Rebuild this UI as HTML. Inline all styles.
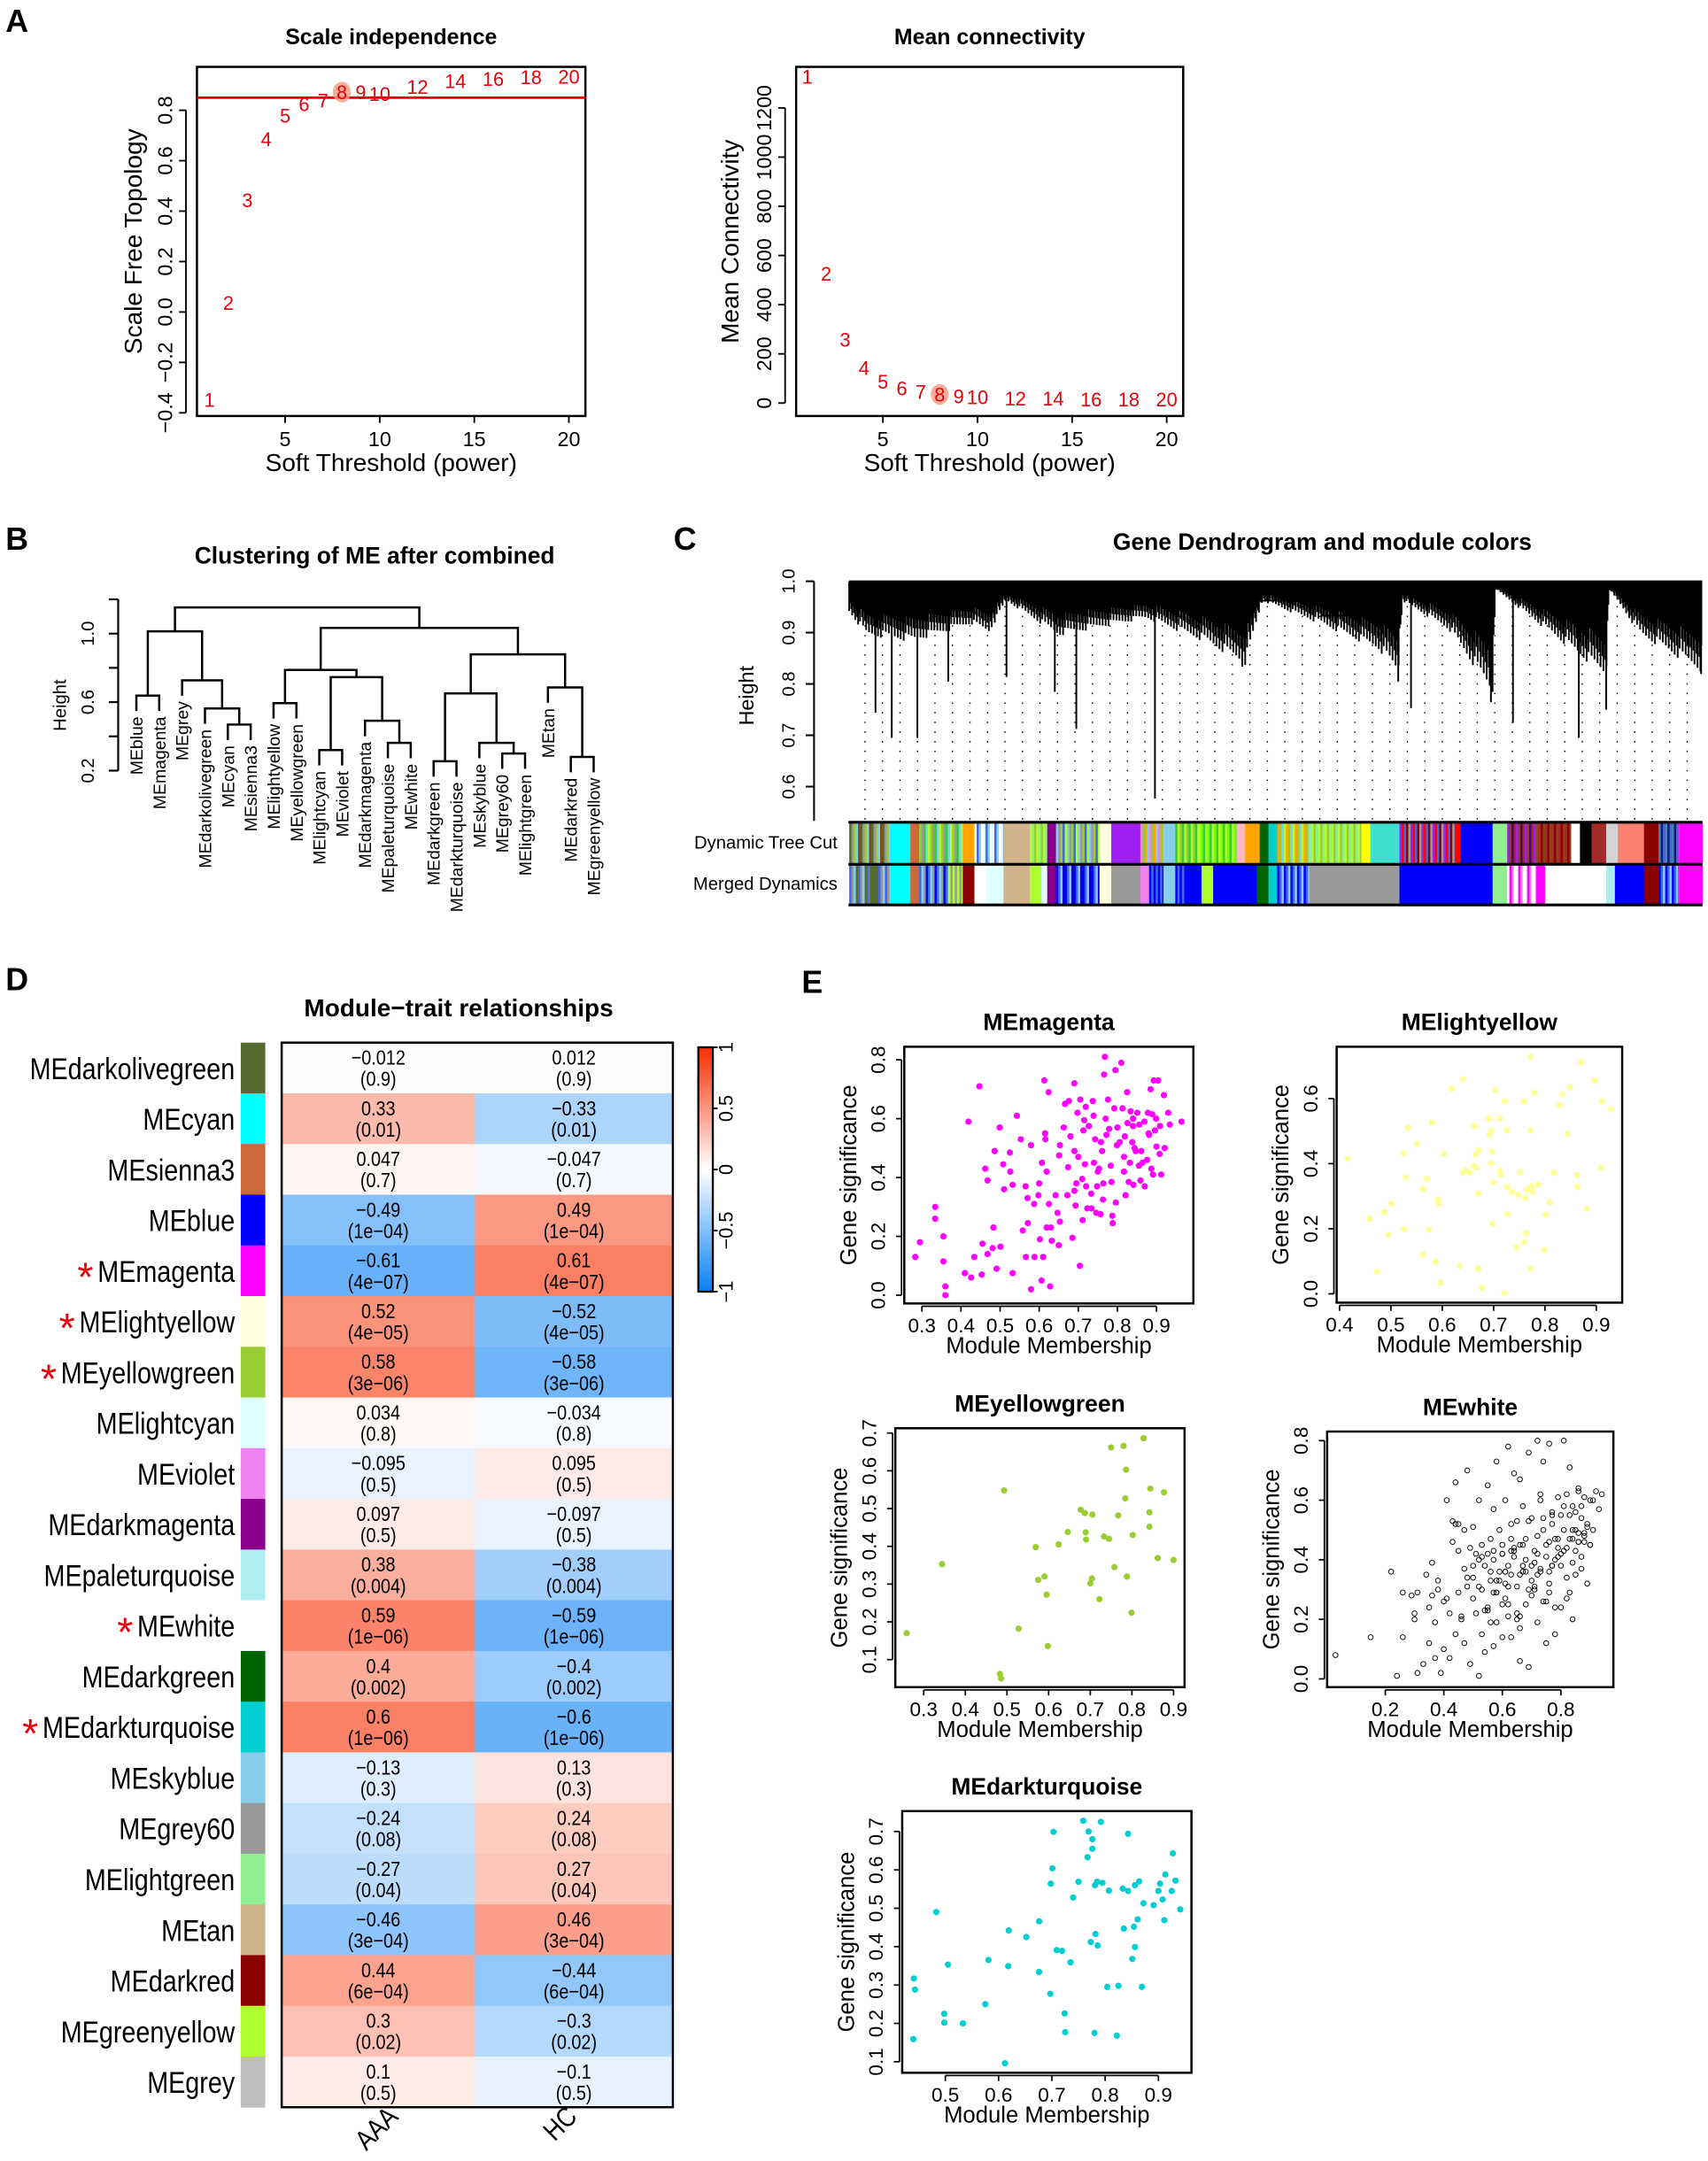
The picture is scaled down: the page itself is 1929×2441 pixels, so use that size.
<!DOCTYPE html>
<html><head><meta charset="utf-8">
<style>
html,body{margin:0;padding:0;background:#fff;}
svg{display:block;font-family:"Liberation Sans",Arial,sans-serif;}
</style></head>
<body>
<svg id="chart" xmlns="http://www.w3.org/2000/svg" width="1929" height="2441" viewBox="0 0 1240 1569">
<rect x="0" y="0" width="1240" height="1569" fill="#fff"/>
<g font-weight="bold" font-size="23">
<text x="4" y="23">A</text>
<text x="4" y="399">B</text>
<text x="489" y="399">C</text>
<text x="4" y="719">D</text>
<text x="582" y="721">E</text>
</g>
</svg>
<script>
const NS='http://www.w3.org/2000/svg';
const svg=document.getElementById('chart');
function mk(tag,attrs,parent){const e=document.createElementNS(NS,tag);for(const k in attrs)e.setAttribute(k,attrs[k]);(parent||svg).appendChild(e);return e;}
function txt(s,x,y,attrs,parent){const t=mk('text',Object.assign({x:x,y:y},attrs||{}),parent);t.textContent=s;return t;}
function lin(v1,p1,v2,p2){return v=>p1+(v-v1)*(p2-p1)/(v2-v1);}
function squeeze(t,f){const w=t.getComputedTextLength();t.setAttribute('textLength',(w*f).toFixed(2));t.setAttribute('lengthAdjust','spacingAndGlyphs');return w*f;}

// ===== Panel A data =====
const powers=[1,2,3,4,5,6,7,8,9,10,12,14,16,18,20];
const sftR2=[-0.348,0.036,0.443,0.685,0.779,0.824,0.838,0.872,0.872,0.864,0.893,0.915,0.924,0.931,0.933];
const meanK=[1327,526,258,143,87,59,46,35,28,23,19,19,15,15,15];
const sftYTicks=[-0.4,-0.2,0,0.2,0.4,0.6,0.8];
const mkYTicks=[0,200,400,600,800,1000,1200];
const powerTicks=[5,10,15,20];
const cutLine=0.85;
const chosenPower=8;

function panelA(cfg){
  const g=mk('g',{});
  
  
  const [x0,y0,x1,y1]=cfg.box;
  const t=txt(cfg.title,(x0+x1)/2,32,{'font-weight':'bold','font-size':16,'text-anchor':'middle'},g);
  
  
  const r=mk('rect',{x:x0,y:y0,width:x1-x0,height:y1-y0,fill:'none',stroke:'#000','stroke-width':1.6},g);
  
  
  const xs=cfg.xs, ys=cfg.ys;
  cfg.xt.forEach(v=>{mk('line',{x1:xs(v),x2:xs(v),y1:y1,y2:y1+5,stroke:'#000','stroke-width':1.2},g);
    const l=txt(String(v),xs(v),y1+22,{'font-size':15,'text-anchor':'middle'},g);
    
    });
  const ymin=ys(cfg.yt[0]), ymax=ys(cfg.yt[cfg.yt.length-1]);
  mk('line',{x1:x0-8,x2:x0-8,y1:ymin,y2:ymax,stroke:'#000','stroke-width':1.2},g);
  cfg.yt.forEach(v=>{mk('line',{x1:x0-8,x2:x0-13,y1:ys(v),y2:ys(v),stroke:'#000','stroke-width':1.2},g);
    const s=(v<0?'\u2212'+Math.abs(v):String(v)).replace(/^0$/,cfg.zeroLabel||'0');
    const l=txt(s,x0-18,ys(v),{'font-size':15,'text-anchor':'middle',transform:`rotate(-90 ${x0-18} ${ys(v)})`},g);
    
    });
  const xl=txt('Soft Threshold (power)',(x0+x1)/2,y1+40,{'font-size':18,'text-anchor':'middle'},g);
  
  
  const yx=cfg.ylabX, yc=(y0+y1)/2;
  const yl=txt(cfg.ylab,yx,yc,{'font-size':18,'text-anchor':'middle',transform:`rotate(-90 ${yx} ${yc})`},g);
  
  
  if(cfg.hline!==undefined){
    const h=mk('line',{x1:x0,x2:x1,y1:ys(cfg.hline),y2:ys(cfg.hline),stroke:'#e8000b','stroke-width':1.8},g);
    
    
  }
  cfg.vals.forEach((v,i)=>{
    const p=powers[i];
    if(p===chosenPower){const c=mk('ellipse',{cx:xs(p),cy:ys(v),rx:6.5,ry:7.5,fill:'#f4a08a',opacity:0.85},g);
      
      }
    const l=txt(String(p),xs(p),ys(v)+5,{'font-size':14,'text-anchor':'middle',fill:'#e8000b'},g);
    
    
  });
}
panelA({name:'scale-independence-plot',title:'Scale independence',box:[143,48.5,425,302],
  xs:lin(5,207,20,413),ys:lin(0.8,80,-0.4,299.7),xt:powerTicks,yt:sftYTicks,vals:sftR2,hline:cutLine,
  ylab:'Scale Free Topology',ylabX:103,zeroLabel:'0.0'});
panelA({name:'mean-connectivity-plot',title:'Mean connectivity',box:[578,48.5,859,302],
  xs:lin(5,641,20,847),ys:lin(0,292.6,1200,78.3),xt:powerTicks,yt:mkYTicks,vals:meanK,
  ylab:'Mean Connectivity',ylabX:536});

// ===== Panel B: ME dendrogram =====
const meLeaves=['MEblue','MEmagenta','MEgrey','MEdarkolivegreen','MEcyan','MEsienna3','MElightyellow','MEyellowgreen','MElightcyan','MEviolet','MEdarkmagenta','MEpaleturquoise','MEwhite','MEdarkgreen','MEdarkturquoise','MEskyblue','MEgrey60','MElightgreen','MEtan','MEdarkred','MEgreenyellow'];
const meMerges=[[-1,-2,0.638],[-5,-6,0.469],[-4,2,0.563],[-3,3,0.727],[1,4,1.013],
 [-7,-8,0.594],[-9,-10,0.32],[-12,-13,0.362],[-11,8,0.491],[7,9,0.746],[6,10,0.788],
 [-14,-15,0.255],[-17,-18,0.30],[-16,13,0.362],[12,14,0.651],[-20,-21,0.28],[-19,16,0.686],[15,17,0.879],
 [11,18,1.033],[5,19,1.153]];
const meYTicks=[0.2,0.4,0.6,0.8,1.0,1.2];
const meYLabels=[0.2,0.6,1.0];
(function(){
  const g=mk('g',{});
  
  
  const t=txt('Clustering of ME after combined',272,409,{'font-weight':'bold','font-size':17,'text-anchor':'middle'},g);
  
  
  const ys=lin(0.2,559.5,1.0,460);
  const xs=i=>99+i*16.6;
  mk('line',{x1:85.8,x2:85.8,y1:ys(1.2),y2:ys(0.2),stroke:'#000','stroke-width':1.4},g);
  meYTicks.forEach(v=>mk('line',{x1:85.8,x2:79,y1:ys(v),y2:ys(v),stroke:'#000','stroke-width':1.4},g));
  meYLabels.forEach(v=>{const l=txt(v.toFixed(1),68,ys(v),{'font-size':13,'text-anchor':'middle',transform:`rotate(-90 68 ${ys(v)})`},g);
    
    });
  const hl=txt('Height',48,512,{'font-size':13,'text-anchor':'middle',transform:'rotate(-90 48 512)'},g);
  
  
  const hang=0.09;
  const nodes=[];
  function info(id){ if(id<0){return {x:xs(-id-1),leaf:-id-1};} return nodes[id-1]; }
  let d='';
  meMerges.forEach(m=>{
    const a=info(m[0]),b=info(m[1]);const y=ys(m[2]);
    const ya=a.leaf!==undefined?ys(m[2]-hang):a.y;
    const yb=b.leaf!==undefined?ys(m[2]-hang):b.y;
    if(a.leaf!==undefined)a.ly=ya; if(b.leaf!==undefined)b.ly=yb;
    d+=`M${a.x},${ya}V${y}H${b.x}V${yb}`;
    [a,b].forEach(n=>{if(n.leaf!==undefined){const lab=txt(meLeaves[n.leaf],n.x+4.5,n.ly+4,{'font-size':12.5,'text-anchor':'end',transform:`rotate(-90 ${n.x+4.5} ${n.ly+4})`},g);
      
      }});
    nodes.push({x:(a.x+b.x)/2,y:y});
  });
  const p=mk('path',{d:d,fill:'none',stroke:'#000','stroke-width':1.6},g);
  
  
})();

// ===== Panel C: gene dendrogram + module colors =====
const envelope=[[90,340],[120,420],[200,440],[300,380],[330,410],[360,300],[450,420],[600,360],[700,440],[770,520],[800,300],[900,380],[1000,470],[1033,550],[1040,300],[1120,400],[1195,620],[1200,260],[1300,420],[1390,560],[1395,260],[1450,420],[1555,545]];
const drops=[[135,675],[163,760],[207,760],[260,570],[360,555],[443,605],[480,730],[615,965],[765,520],[1033,570],[1055,660],[1192,640],[1230,710],[1343,760],[1390,665],[1553,545]];
const dynSegs=[[90,160,['#556B2F','#999','#9ACD32','#87CEEB','#8B4513']],[160,195,['#00FFFF']],[195,210,['#CD6839']],[210,285,['#9ACD32','#999','#32CD32','#87CEEB','#ADFF2F']],[285,305,['#FFA500']],[305,355,['#E0FFFF','#4169E1','#87CEEB','#fff']],[355,400,['#D2B48C']],[400,430,['#ADFF2F','#90EE90','#9ACD32']],[430,445,['#8B008B']],[445,520,['#87CEEB','#999','#9ACD32','#4169E1','#ADFF2F']],[520,540,['#FFFFE0']],[540,590,['#A020F0']],[590,630,['#EE82EE','#9ACD32','#FFA500','#87CEEB']],[630,650,['#87CEEB']],[650,690,['#32CD32','#ADFF2F','#9ACD32']],[690,755,['#ADFF2F','#7CFC00','#32CD32']],[755,770,['#FFB6C1']],[770,795,['#FFA500']],[795,810,['#006400']],[810,825,['#00CED1']],[825,880,['#FFA500','#9ACD32','#87CEEB','#ADFF2F']],[880,970,['#90EE90','#ADFF2F','#9ACD32']],[970,985,['#FFFF00']],[985,1035,['#40E0D0']],[1035,1130,['#A020F0','#FF0000','#4169E1','#8B0000','#999']],[1130,1140,['#FF0000']],[1140,1195,['#0000FF']],[1195,1220,['#90EE90']],[1220,1270,['#A020F0','#8B4513','#4B0082','#A52A2A']],[1270,1330,['#8B4513','#A52A2A','#8B0000']],[1330,1345,['#FFFFFF']],[1345,1365,['#000000']],[1365,1390,['#A52A2A']],[1390,1410,['#D3D3D3']],[1410,1455,['#FA8072']],[1455,1480,['#8B0000']],[1480,1515,['#4682B4','#191970','#4169E1']],[1515,1555,['#FF00FF']]];
const mrgSegs=[[90,125,['#4169E1','#999','#87CEEB','#556B2F']],[125,140,['#556B2F']],[140,160,['#4169E1','#999','#87CEEB']],[160,195,['#00FFFF']],[195,210,['#CD6839']],[210,260,['#4169E1','#87CEEB','#999','#0000FF']],[260,285,['#ADFF2F','#999']],[285,305,['#8B0000']],[305,325,['#FFFFFF']],[325,355,['#E0FFFF']],[355,400,['#D2B48C']],[400,420,['#ADFF2F']],[420,430,['#E0FFFF']],[430,445,['#8B008B']],[445,520,['#0000FF','#4169E1','#87CEEB','#0000CD']],[520,540,['#FFFFE0']],[540,590,['#999999']],[590,605,['#EE82EE']],[605,630,['#0000FF','#4169E1']],[630,650,['#87CEEB']],[650,665,['#0000FF','#4169E1']],[665,695,['#0000FF']],[695,715,['#ADFF2F']],[715,790,['#0000FF']],[790,810,['#006400']],[810,825,['#00CED1']],[825,880,['#0000FF','#4169E1','#87CEEB']],[880,1035,['#999999']],[1035,1195,['#0000FF']],[1195,1220,['#90EE90']],[1220,1270,['#FFFFFF','#FF00FF','#EE82EE','#FFFFFF']],[1270,1285,['#FF00FF']],[1285,1390,['#FFFFFF']],[1390,1405,['#AFEEEE']],[1405,1455,['#0000FF']],[1455,1480,['#8B0000']],[1480,1515,['#0000FF','#4169E1','#87CEEB']],[1515,1555,['#FF00FF']]];
const geneYTicks=[1.0,0.9,0.8,0.7,0.6];
(function(){
  const zx=v=>578.5+v*0.4227, zy=v=>422+(v-232)*0.2153;
  const g=mk('g',{});
  
  
  const t=txt('Gene Dendrogram and module colors',960,399,{'font-weight':'bold','font-size':17,'text-anchor':'middle'},g);
  
  
  const ys=lin(1.0,422,0.6,571.1);
  mk('line',{x1:591,x2:591,y1:422,y2:596,stroke:'#000','stroke-width':1.3},g);
  geneYTicks.forEach(v=>{mk('line',{x1:591,x2:585,y1:ys(v),y2:ys(v),stroke:'#000','stroke-width':1.3},g);
    const l=txt(v.toFixed(1),577,ys(v),{'font-size':13,'text-anchor':'middle',transform:`rotate(-90 577 ${ys(v)})`},g);
    
    });
  const hl=txt('Height',547,505,{'font-size':15,'text-anchor':'middle',transform:'rotate(-90 547 505)'},g);
  
  
  let dd='';
  for(let x=628;x<1236;x+=12.7){dd+=`M${x.toFixed(1)},440V596`;}
  mk('path',{d:dd,stroke:'#000','stroke-width':0.9,'stroke-dasharray':'1,6',fill:'none'},g);
  function env(x){for(let i=0;i<envelope.length-1;i++){const a=envelope[i],b=envelope[i+1];if(x>=a[0]&&x<=b[0]){return a[1]+(b[1]-a[1])*(x-a[0])/(b[0]-a[0]);}}return 340;}
  let d='';
  for(let z=90;z<=1555;z+=1.7){
    const e=zy(env(z));const f=((Math.round(z*10)*37)%23)/23;
    const yb=424+(e-424)*(0.55+0.45*f);
    d+=`M${zx(z).toFixed(1)},422V${yb.toFixed(1)}`;
  }
  drops.forEach(p=>{d+=`M${zx(p[0]).toFixed(1)},430V${zy(p[1]).toFixed(1)}`;});
  d+=`M${zx(90)},422H${zx(1555)}M${zx(310)},427H${zx(1195)}M${zx(800)},429H${zx(1040)}M${zx(700)},436H${zx(1040)}M${zx(900)},447H${zx(1033)}M${zx(1200)},427H${zx(1395)}M${zx(1395)},428H${zx(1500)}`;
  const p=mk('path',{d:d,stroke:'#000','stroke-width':1.25,fill:'none'},g);
  
  
  function bar(segs,y0,h,name){
    const bg=mk('g',{},g);
    
    
    segs.forEach(s=>{
      const a=zx(s[0]),b=zx(s[1]);
      if(s[2].length===1){mk('rect',{x:a,y:y0,width:b-a+0.3,height:h,fill:s[2][0]},bg);}
      else{let k=0;for(let x=a;x<b;x+=1.6){mk('rect',{x:x,y:y0,width:Math.min(1.9,b-x),height:h,fill:s[2][k%s[2].length]},bg);k++;}}
    });
  }
  bar(dynSegs,597,30,'dynamic-tree-cut-colors');
  bar(mrgSegs,628,29,'merged-dynamics-colors');
  [597,627.5,657].forEach(y=>mk('line',{x1:616,x2:1236,y1:y,y2:y,stroke:'#000','stroke-width':2},g));
  const l1=txt('Dynamic Tree Cut',608,616,{'font-size':13,'text-anchor':'end'},g);
  
  
  const l2=txt('Merged Dynamics',608,646,{'font-size':13,'text-anchor':'end'},g);
  
  
})();

// ===== Panel D: heatmap =====
const modNames=['MEdarkolivegreen','MEcyan','MEsienna3','MEblue','MEmagenta','MElightyellow','MEyellowgreen','MElightcyan','MEviolet','MEdarkmagenta','MEpaleturquoise','MEwhite','MEdarkgreen','MEdarkturquoise','MEskyblue','MEgrey60','MElightgreen','MEtan','MEdarkred','MEgreenyellow','MEgrey'];
const modColors=['#556B2F','#00FFFF','#CD6839','#0000FF','#FF00FF','#FFFFE0','#9ACD32','#E0FFFF','#EE82EE','#8B008B','#AFEEEE','#FFFFFF','#006400','#00CED1','#87CEEB','#999999','#90EE90','#D2B48C','#8B0000','#ADFF2F','#BEBEBE'];
const corAAA=[-0.012,0.33,0.047,-0.49,-0.61,0.52,0.58,0.034,-0.095,0.097,0.38,0.59,0.4,0.6,-0.13,-0.24,-0.27,-0.46,0.44,0.3,0.1];
const corHC=[0.012,-0.33,-0.047,0.49,0.61,-0.52,-0.58,-0.034,0.095,-0.097,-0.38,-0.59,-0.4,-0.6,0.13,0.24,0.27,0.46,-0.44,-0.3,-0.1];
const pvals=['0.9','0.01','0.7','1e-04','4e-07','4e-05','3e-06','0.8','0.5','0.5','0.004','1e-06','0.002','1e-06','0.3','0.08','0.04','3e-04','6e-04','0.02','0.5'];
const starred=['MEmagenta','MElightyellow','MEyellowgreen','MEwhite','MEdarkturquoise'];
const traits=['AAA','HC'];
const cbTicks=[1,0.5,0,-0.5,-1];
function heatColor(v){
  const e=v<0?[7,127,244]:[247,45,0];const a=Math.min(1,Math.abs(v));
  return `rgb(${Math.round(255+(e[0]-255)*a)},${Math.round(255+(e[1]-255)*a)},${Math.round(255+(e[2]-255)*a)})`;
}
function fmt(v){return v<0?'\u2212'+String(Math.abs(v)):String(v);}
(function(){
  const g=mk('g',{});
  
  
  const t=txt('Module\u2212trait relationships',333,738,{'font-weight':'bold','font-size':18,'text-anchor':'middle'},g);
  
  
  const x0=204.5,x1=488.5,y0=757,y1=1530,cm=344.8;
  const rh=(y1-y0)/modNames.length;
  const cols=[[x0,cm],[cm,x1]];
  modNames.forEach((n,i)=>{
    const y=y0+i*rh;
    const sw=mk('rect',{x:174.8,y:y,width:17.8,height:rh+0.3,fill:modColors[i]},g);
    
    
    const lab=txt(n,170.5,y+rh/2+8,{'font-size':22,'text-anchor':'end'},g);
    
    
    const w=squeeze(lab,0.84);
    if(starred.indexOf(n)>=0){
      const st=txt('*',170.5-w-3,y+rh/2+15,{'font-size':30,'text-anchor':'end',fill:'#e8000b'},g);
      
      
    }
    [corAAA[i],corHC[i]].forEach((v,j)=>{
      const c=mk('rect',{x:cols[j][0],y:y,width:cols[j][1]-cols[j][0]+0.3,height:rh+0.3,fill:heatColor(v)},g);
      
      
      const cx=(cols[j][0]+cols[j][1])/2;
      const a=txt(fmt(v),cx,y+16,{'font-size':15,'text-anchor':'middle'},g);
      
      
      squeeze(a,0.85);
      const b=txt('('+pvals[i].replace('-','\u2212')+')',cx,y+31.5,{'font-size':15,'text-anchor':'middle'},g);
      
      
      squeeze(b,0.85);
    });
  });
  const fr=mk('rect',{x:x0,y:y0,width:x1-x0,height:y1-y0,fill:'none',stroke:'#000','stroke-width':1.6},g);
  
  
  traits.forEach((tr,j)=>{
    const ex=j===0?290:420, ey=1538;
    const l=txt(tr,ex,ey,{'font-size':20,'text-anchor':'end',transform:`rotate(-45 ${ex} ${ey})`},g);
    
    
    squeeze(l,0.85);
  });
  const defs=mk('defs',{},g);
  const lg=mk('linearGradient',{id:'cbg',x1:0,y1:0,x2:0,y2:1},defs);
  [1,0.5,0,-0.5,-1].forEach((v,k)=>mk('stop',{offset:(k/4),'stop-color':heatColor(v)},lg));
  const cy=lin(1,760.4,-1,937.8);
  const cb=mk('rect',{x:507,y:760.4,width:10.5,height:177.4,fill:'url(#cbg)',stroke:'#000','stroke-width':1.5},g);
  
  
  cbTicks.forEach(v=>{mk('line',{x1:517.5,x2:521,y1:cy(v),y2:cy(v),stroke:'#000','stroke-width':1.2},g);
    const l=txt(fmt(v),532,cy(v),{'font-size':14,'text-anchor':'middle',transform:`rotate(-90 532 ${cy(v)})`},g);
    
    });
})();

// ===== Panel E: scatter plots =====
const magentaMM=[0.283,0.295,0.334,0.334,0.355,0.355,0.36,0.36,0.41,0.426,0.434,0.453,0.455,0.447,0.419,0.462,0.468,0.468,0.481,0.483,0.486,0.491,0.499,0.501,0.508,0.51,0.525,0.526,0.532,0.532,0.543,0.553,0.558,0.565,0.566,0.57,0.571,0.579,0.579,0.587,0.588,0.598,0.6,0.602,0.606,0.607,0.61,0.613,0.615,0.616,0.619,0.619,0.624,0.625,0.628,0.63,0.632,0.642,0.647,0.65,0.651,0.653,0.653,0.663,0.666,0.672,0.674,0.676,0.68,0.685,0.69,0.69,0.69,0.693,0.695,0.698,0.704,0.705,0.71,0.711,0.713,0.715,0.717,0.719,0.72,0.723,0.727,0.733,0.734,0.737,0.739,0.74,0.743,0.746,0.748,0.753,0.757,0.758,0.761,0.763,0.764,0.766,0.768,0.77,0.772,0.776,0.779,0.783,0.785,0.787,0.788,0.792,0.795,0.796,0.799,0.806,0.81,0.813,0.817,0.817,0.819,0.821,0.825,0.826,0.829,0.832,0.834,0.838,0.84,0.841,0.844,0.847,0.851,0.855,0.856,0.859,0.861,0.864,0.869,0.87,0.876,0.878,0.881,0.885,0.887,0.889,0.891,0.893,0.896,0.899,0.9,0.904,0.908,0.909,0.912,0.919,0.921,0.93,0.934,0.964,0.8,0.84,0.75,0.7,0.88];
const magentaGS=[0.13,0.18,0.30,0.26,0.20,0.115,0.03,0.0,0.075,0.06,0.13,0.07,0.175,0.71,0.59,0.43,0.39,0.14,0.16,0.23,0.49,0.09,0.57,0.165,0.445,0.36,0.485,0.42,0.075,0.375,0.61,0.53,0.22,0.37,0.13,0.33,0.245,0.51,0.02,0.31,0.13,0.34,0.38,0.19,0.05,0.45,0.13,0.73,0.55,0.53,0.42,0.23,0.69,0.31,0.03,0.23,0.185,0.34,0.28,0.17,0.475,0.25,0.51,0.57,0.65,0.34,0.435,0.66,0.54,0.195,0.72,0.49,0.355,0.305,0.38,0.62,0.1,0.665,0.395,0.255,0.56,0.595,0.445,0.64,0.37,0.295,0.575,0.345,0.295,0.66,0.61,0.45,0.53,0.28,0.37,0.43,0.275,0.52,0.49,0.325,0.38,0.75,0.81,0.6,0.545,0.665,0.565,0.44,0.385,0.27,0.245,0.635,0.765,0.315,0.51,0.52,0.79,0.635,0.42,0.47,0.54,0.34,0.69,0.585,0.385,0.45,0.625,0.52,0.575,0.375,0.5,0.49,0.62,0.44,0.58,0.39,0.49,0.45,0.59,0.37,0.46,0.62,0.545,0.7,0.43,0.615,0.41,0.73,0.56,0.6,0.505,0.73,0.48,0.575,0.41,0.68,0.5,0.62,0.58,0.59,0.57,0.60,0.42,0.47,0.55];
const lyMM=[0.416,0.459,0.473,0.487,0.495,0.501,0.525,0.526,0.533,0.529,0.551,0.562,0.563,0.57,0.574,0.58,0.587,0.591,0.593,0.597,0.603,0.618,0.634,0.64,0.641,0.645,0.654,0.661,0.663,0.666,0.666,0.67,0.67,0.671,0.677,0.691,0.692,0.695,0.695,0.697,0.698,0.699,0.703,0.712,0.712,0.714,0.722,0.721,0.726,0.726,0.727,0.736,0.745,0.748,0.752,0.759,0.759,0.762,0.763,0.765,0.772,0.772,0.772,0.774,0.776,0.779,0.787,0.799,0.802,0.809,0.818,0.829,0.834,0.844,0.849,0.863,0.863,0.87,0.881,0.897,0.909,0.911,0.929];
const lyGS=[0.415,0.231,0.068,0.251,0.181,0.277,0.431,0.199,0.51,0.358,0.461,0.121,0.322,0.353,0.197,0.526,0.098,0.289,0.277,0.034,0.43,0.63,0.086,0.66,0.372,0.379,0.372,0.393,0.515,0.388,0.428,0.308,0.077,0.442,0.018,0.538,0.488,0.501,0.401,0.437,0.215,0.343,0.626,0.539,0.378,0.365,0.592,0.002,0.503,0.328,0.245,0.313,0.143,0.304,0.373,0.591,0.159,0.295,0.186,0.32,0.728,0.503,0.077,0.331,0.313,0.617,0.335,0.134,0.243,0.281,0.372,0.58,0.612,0.491,0.635,0.365,0.328,0.712,0.261,0.655,0.388,0.592,0.567];
const ygMM=[0.259,0.344,0.493,0.483,0.486,0.528,0.569,0.575,0.59,0.595,0.598,0.624,0.646,0.677,0.687,0.689,0.69,0.7,0.704,0.705,0.722,0.733,0.745,0.75,0.758,0.767,0.78,0.784,0.786,0.788,0.799,0.802,0.828,0.842,0.842,0.844,0.862,0.877,0.9];
const ygGS=[0.17,0.353,0.548,0.062,0.05,0.182,0.398,0.311,0.32,0.272,0.136,0.405,0.438,0.497,0.488,0.437,0.418,0.302,0.315,0.484,0.26,0.426,0.42,0.662,0.345,0.482,0.666,0.527,0.603,0.32,0.224,0.43,0.686,0.49,0.452,0.553,0.369,0.543,0.364];
const whiteMM=[0.03,0.15,0.22,0.24,0.26,0.26,0.29,0.3,0.3,0.31,0.31,0.33,0.34,0.35,0.35,0.36,0.37,0.37,0.38,0.39,0.4,0.4,0.41,0.42,0.42,0.43,0.44,0.44,0.45,0.45,0.46,0.47,0.47,0.48,0.48,0.49,0.5,0.5,0.5,0.51,0.52,0.52,0.52,0.53,0.53,0.54,0.54,0.55,0.55,0.55,0.56,0.56,0.57,0.57,0.57,0.58,0.58,0.58,0.59,0.59,0.6,0.6,0.6,0.61,0.61,0.62,0.62,0.62,0.63,0.63,0.63,0.64,0.64,0.65,0.65,0.65,0.66,0.66,0.66,0.67,0.67,0.68,0.68,0.69,0.69,0.69,0.7,0.7,0.71,0.71,0.72,0.72,0.72,0.73,0.73,0.74,0.74,0.75,0.75,0.76,0.76,0.76,0.77,0.77,0.78,0.78,0.79,0.79,0.8,0.8,0.81,0.81,0.82,0.82,0.83,0.83,0.84,0.84,0.85,0.85,0.86,0.86,0.87,0.87,0.88,0.88,0.89,0.89,0.9,0.91,0.92,0.93,0.94,0.47,0.52,0.58,0.63,0.68,0.74,0.79,0.84,0.88,0.55,0.61,0.66,0.71,0.77,0.82,0.86,0.45,0.5,0.64,
 0.36,0.38,0.41,0.43,0.46,0.48,0.51,0.53,0.54,0.56,0.57,0.59,0.6,0.61,0.63,0.64,0.66,0.67,0.68,0.7,0.71,0.72,0.73,0.75,0.76,0.77,0.78,0.79,0.8,0.81,0.82,0.83,0.84,0.85,0.86,0.87,0.88,0.89,0.9,0.91,0.56,0.58,0.6,0.62,0.65,0.67,0.7,0.72,0.74,0.76,0.78,0.8,0.83,0.85,0.87,0.49,0.53,0.57,0.61,0.69,0.73,0.77,0.81,0.86,0.9,0.44,0.62,0.66,0.75,0.84];
const whiteGS=[0.08,0.14,0.36,0.01,0.14,0.29,0.28,0.22,0.2,0.29,0.02,0.05,0.35,0.12,0.24,0.39,0.19,0.07,0.3,0.02,0.26,0.1,0.6,0.22,0.07,0.53,0.66,0.15,0.43,0.29,0.21,0.12,0.37,0.7,0.31,0.05,0.27,0.51,0.38,0.22,0.6,0.01,0.31,0.15,0.41,0.38,0.09,0.65,0.24,0.42,0.19,0.33,0.57,0.11,0.43,0.29,0.73,0.19,0.5,0.36,0.25,0.14,0.45,0.6,0.32,0.78,0.38,0.25,0.52,0.14,0.35,0.69,0.43,0.53,0.2,0.31,0.67,0.45,0.06,0.36,0.58,0.25,0.47,0.3,0.76,0.04,0.38,0.54,0.3,0.43,0.8,0.42,0.19,0.62,0.36,0.73,0.5,0.41,0.26,0.79,0.46,0.29,0.56,0.38,0.47,0.15,0.61,0.41,0.24,0.55,0.8,0.43,0.62,0.34,0.47,0.71,0.5,0.39,0.56,0.43,0.64,0.49,0.37,0.54,0.46,0.61,0.32,0.51,0.45,0.6,0.63,0.57,0.62,0.5,0.4,0.33,0.47,0.36,0.54,0.44,0.58,0.49,0.23,0.27,0.21,0.31,0.38,0.27,0.46,0.52,0.34,0.44,0.28,
 0.33,0.27,0.46,0.2,0.34,0.42,0.3,0.23,0.36,0.4,0.33,0.42,0.36,0.43,0.41,0.35,0.45,0.4,0.33,0.39,0.48,0.37,0.45,0.36,0.52,0.4,0.47,0.42,0.5,0.44,0.55,0.47,0.5,0.46,0.58,0.48,0.52,0.45,0.5,0.47,0.29,0.42,0.31,0.22,0.38,0.28,0.35,0.26,0.32,0.24,0.38,0.29,0.35,0.41,0.44,0.45,0.29,0.36,0.53,0.6,0.55,0.58,0.63,0.6,0.52,0.21,0.17,0.12,0.2,0.16];
const dtMM=[0.441,0.443,0.44,0.483,0.498,0.498,0.505,0.533,0.575,0.581,0.612,0.618,0.619,0.652,0.676,0.676,0.697,0.698,0.701,0.703,0.709,0.719,0.724,0.725,0.735,0.74,0.75,0.759,0.767,0.769,0.773,0.776,0.776,0.78,0.782,0.781,0.785,0.786,0.792,0.795,0.804,0.807,0.822,0.825,0.833,0.835,0.843,0.843,0.851,0.854,0.856,0.856,0.861,0.864,0.869,0.872,0.891,0.9,0.903,0.908,0.911,0.913,0.925,0.927,0.932,0.941];
const dtGS=[0.317,0.288,0.159,0.49,0.225,0.202,0.353,0.2,0.25,0.365,0.096,0.349,0.442,0.425,0.466,0.334,0.277,0.564,0.604,0.699,0.391,0.389,0.226,0.177,0.359,0.528,0.569,0.728,0.633,0.7,0.412,0.68,0.655,0.175,0.433,0.56,0.569,0.403,0.725,0.566,0.295,0.546,0.168,0.298,0.551,0.447,0.694,0.545,0.368,0.452,0.56,0.399,0.471,0.57,0.295,0.513,0.508,0.545,0.564,0.523,0.469,0.588,0.545,0.643,0.572,0.497];

function scatter(cfg){
  const g=mk('g',{});
  
  
  const [x0,y0,x1,y1]=cfg.box;
  const t=txt(cfg.title,(x0+x1)/2,y0-12,{'font-weight':'bold','font-size':17,'text-anchor':'middle'},g);
  
  
  const xs=cfg.xs,ys=cfg.ys;
  cfg.mm.forEach((m,i)=>{
    const c=mk('circle',{cx:xs(m),cy:ys(cfg.gs[i]),r:cfg.open?1.8:2.3,fill:cfg.open?'none':cfg.color,stroke:cfg.open?'#000':'none','stroke-width':0.6},g);
    
    
  });
  const r=mk('rect',{x:x0,y:y0,width:x1-x0,height:y1-y0,fill:'none',stroke:'#000','stroke-width':1.6},g);
  
  
  const xt=cfg.xt,yt=cfg.yt;
  mk('line',{x1:xs(xt[0]),x2:xs(xt[xt.length-1]),y1:y1+2,y2:y1+2,stroke:'#000','stroke-width':1.1},g);
  xt.forEach(v=>{mk('line',{x1:xs(v),x2:xs(v),y1:y1+2,y2:y1+6,stroke:'#000','stroke-width':1.1},g);
    const l=txt(v.toFixed(1),xs(v),y1+21,{'font-size':14.5,'text-anchor':'middle'},g);
    
    });
  mk('line',{x1:x0-2,x2:x0-2,y1:ys(yt[0]),y2:ys(yt[yt.length-1]),stroke:'#000','stroke-width':1.1},g);
  yt.forEach(v=>{mk('line',{x1:x0-2,x2:x0-6,y1:ys(v),y2:ys(v),stroke:'#000','stroke-width':1.1},g);
    const lx=x0-14;
    const l=txt(v.toFixed(1),lx,ys(v),{'font-size':14.5,'text-anchor':'middle',transform:`rotate(-90 ${lx} ${ys(v)})`},g);
    
    });
  const xl=txt('Module Membership',(x0+x1)/2,y1+36,{'font-size':16.5,'text-anchor':'middle'},g);
  
  
  const yx=x0-35,yc=(y0+y1)/2;
  const yl=txt('Gene significance',yx,yc,{'font-size':16.5,'text-anchor':'middle',transform:`rotate(-90 ${yx} ${yc})`},g);
  
  
}
scatter({name:'scatter-memagenta',title:'MEmagenta',box:[656.5,760,866.4,946.4],xs:lin(0.3,669.3,0.9,839.6),ys:lin(0,940.4,0.8,769.5),
  xt:[0.3,0.4,0.5,0.6,0.7,0.8,0.9],yt:[0,0.2,0.4,0.6,0.8],mm:magentaMM,gs:magentaGS,color:'#FF00FF'});
scatter({name:'scatter-melightyellow',title:'MElightyellow',box:[970.4,760,1177.7,945.8],xs:lin(0.4,972.5,0.9,1158.9),ys:lin(0,939.4,0.6,797.6),
  xt:[0.4,0.5,0.6,0.7,0.8,0.9],yt:[0,0.2,0.4,0.6],mm:lyMM,gs:lyGS,color:'#FFFF99'});
scatter({name:'scatter-meyellowgreen',title:'MEyellowgreen',box:[650,1037,860,1225],xs:lin(0.3,670.6,0.9,852),ys:lin(0.1,1205,0.7,1040.5),
  xt:[0.3,0.4,0.5,0.6,0.7,0.8,0.9],yt:[0.1,0.2,0.3,0.4,0.5,0.6,0.7],mm:ygMM,gs:ygGS,color:'#9ACD32'});
scatter({name:'scatter-mewhite',title:'MEwhite',box:[963.5,1039.4,1171.3,1225],xs:lin(0.2,1005.7,0.8,1133.2),ys:lin(0,1219,0.8,1046),
  xt:[0.2,0.4,0.6,0.8],yt:[0,0.2,0.4,0.6,0.8],mm:whiteMM,gs:whiteGS,open:true});
scatter({name:'scatter-medarkturquoise',title:'MEdarkturquoise',box:[655,1315,865,1505],xs:lin(0.5,686.3,0.9,841),ys:lin(0.1,1497,0.7,1329.8),
  xt:[0.5,0.6,0.7,0.8,0.9],yt:[0.1,0.2,0.3,0.4,0.5,0.6,0.7],mm:dtMM,gs:dtGS,color:'#00CED1'});
</script>
</body></html>
